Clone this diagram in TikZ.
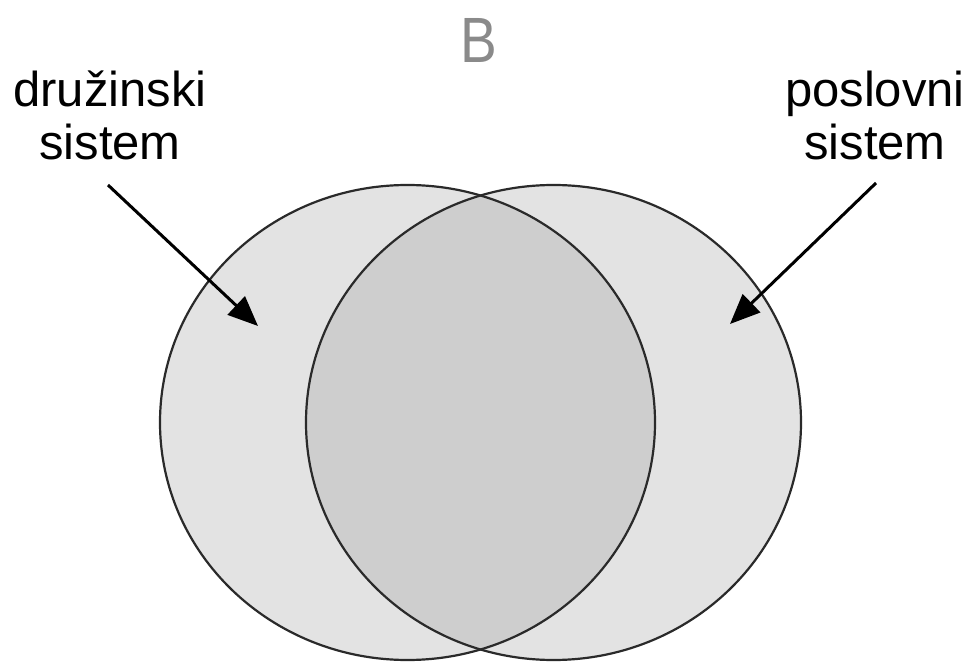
\documentclass[tikz,border=0pt]{standalone}
\usepackage{fontspec}
\setmainfont{Liberation Sans}
\usetikzlibrary{arrows.meta,shapes.geometric}
\definecolor{setfill}{HTML}{E3E3E3}
\definecolor{capfill}{HTML}{CECECE}
\definecolor{rim}{HTML}{2A2A2A}
\definecolor{titlegray}{HTML}{8A8A8A}
\tikzset{setring/.style={ellipse,fill=setfill,minimum width=495pt,minimum height=475pt,inner sep=0pt},
  rimline/.style={draw=rim,line width=2.2pt},
  lbl/.style={align=center,font=\fontsize{49}{53}\selectfont},
  pointer/.style={-{Triangle[length=30pt,width=25pt]},line width=3pt}}

\begin{document}
\begin{tikzpicture}[x=1pt,y=-1pt]
\useasboundingbox (0,0) rectangle (970,663);
\node[setring] (fam) at (407.5,422.5) {};
\node[setring] (biz) at (553.5,422.5) {};
\begin{scope}
  \clip (fam.center) ellipse [x radius=247.5,y radius=237.5];
  \fill[capfill] (biz.center) ellipse [x radius=247.5,y radius=237.5];
\end{scope}
\draw[rimline] (fam.center) ellipse [x radius=247.5,y radius=237.5];
\draw[rimline] (biz.center) ellipse [x radius=247.5,y radius=237.5];
\node[font=\fontsize{64}{64}\selectfont,text=titlegray,anchor=base,xscale=0.86] (title) at (479,63) {B};
\node[lbl,anchor=base] (famlbl) at (110,160) {družinski\\sistem};
\node[lbl,anchor=base] (bizlbl) at (875,160) {poslovni\\sistem};
% pointers into the two systems
\coordinate (famfrom) at (108,185);
\coordinate (famtip) at (258,326);
\coordinate (bizfrom) at (876,183);
\coordinate (biztip) at (730,324);
\draw[pointer] (famfrom) -- (famtip);
\draw[pointer] (bizfrom) -- (biztip);
\end{tikzpicture}
\end{document}
